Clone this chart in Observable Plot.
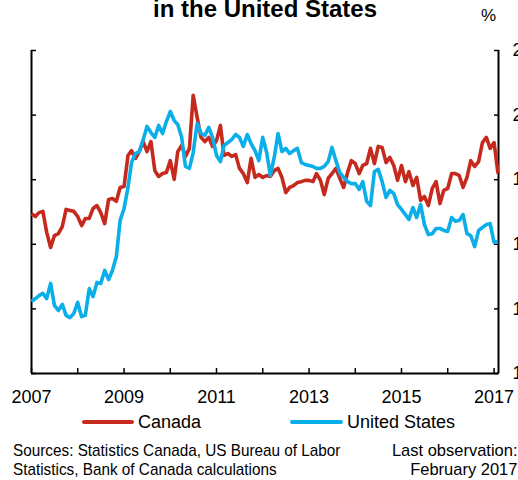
<!DOCTYPE html>
<html>
<head>
<meta charset="utf-8">
<script src="https://cdn.jsdelivr.net/npm/d3@7"></script>
<script src="https://cdn.jsdelivr.net/npm/@observablehq/plot@0.6"></script>
<style>
  html, body { margin: 0; padding: 0; background: #fff; }
  #wrap { position: relative; width: 518px; height: 480px; overflow: hidden; font-family: "Liberation Sans", Arial, sans-serif; color: #000; }
  #title { position: absolute; left: 0; width: 530px; top: -4px; text-align: center; font-weight: bold; font-size: 24px; line-height: 26px; white-space: nowrap; }
  #unit { position: absolute; left: 481px; top: 6px; font-size: 17px; }
  #chart { position: absolute; left: 0; top: 0; }
  .leg { position: absolute; top: 410px; font-size: 18px; line-height: 24px; white-space: nowrap; }
  .sw { position: absolute; height: 4px; top: 420px; border-radius: 2px; }
  #src { position: absolute; left: 13px; top: 441px; font-size: 17px; line-height: 19px; white-space: nowrap; transform: scaleX(0.9); transform-origin: 0 0; }
  #obs { position: absolute; right: 1px; top: 441px; text-align: right; font-size: 17px; line-height: 19px; white-space: nowrap; transform: scaleX(0.97); transform-origin: 100% 0; }
</style>
</head>
<body>
<div id="wrap">
  <div id="chart"></div>
  <div id="title">in the United States</div>
  <div id="unit">%</div>
  <div class="sw" style="left:82px;width:52px;background:#c62a1f"></div>
  <div class="leg" style="left:138px">Canada</div>
  <div class="sw" style="left:290px;width:53px;background:#0aafe9"></div>
  <div class="leg" style="left:347px">United States</div>
  <div id="src">Sources: Statistics Canada, US Bureau of Labor<br>Statistics, Bank of Canada calculations</div>
  <div id="obs">Last observation:<br>February 2017</div>
</div>
<script>
// Monthly series, January 2007 to February 2017
const startYear = 2007;
const canada = [
  16.95, 16.86, 16.98, 17.02, 16.37, 15.90, 16.27, 16.33, 16.55, 17.08, 17.05, 17.02,
  16.86, 16.58, 16.80, 16.80, 17.11, 17.20, 16.98, 16.64, 17.39, 17.42, 17.33, 17.76,
  17.79, 18.75, 18.90, 18.66, 18.87, 19.18, 18.87, 19.18, 18.28, 18.10, 18.19, 18.22,
  18.59, 18.01, 18.87, 19.06, 18.72, 18.97, 20.61, 19.93, 19.31, 19.18, 19.31, 19.03,
  19.21, 19.68, 18.75, 18.81, 18.72, 18.78, 18.35, 18.19, 17.91, 18.66, 18.07, 18.16,
  18.07, 18.13, 18.10, 18.28, 18.35, 18.07, 17.60, 17.76, 17.82, 17.91, 17.94, 17.98,
  17.98, 17.94, 18.19, 17.98, 17.54, 18.04, 18.19, 18.35, 18.04, 17.76, 18.22, 18.59,
  18.50, 18.19, 18.44, 18.50, 18.97, 18.50, 19.03, 19.00, 18.53, 18.69, 18.44, 17.98,
  18.44, 17.94, 18.25, 17.82, 18.07, 17.36, 17.48, 17.20, 17.73, 17.94, 17.26, 17.67,
  17.73, 18.19, 18.19, 18.13, 17.76, 18.07, 18.59, 18.41, 18.56, 19.15, 19.31, 18.97,
  19.15, 18.19
];
const unitedStates = [
  14.23, 14.32, 14.41, 14.48, 14.32, 14.79, 14.11, 13.95, 14.14, 13.80, 13.73, 13.86,
  14.20, 13.76, 13.80, 14.63, 14.38, 14.82, 14.79, 15.19, 14.91, 15.19, 15.62, 16.74,
  17.11, 17.76, 18.53, 18.81, 18.87, 19.24, 19.65, 19.46, 19.31, 19.68, 19.43, 19.80,
  20.11, 19.83, 19.71, 19.31, 18.41, 18.35, 18.84, 19.74, 19.43, 19.37, 19.62, 19.31,
  18.75, 18.56, 19.06, 19.15, 19.24, 19.40, 19.31, 19.03, 19.40, 19.12, 18.90, 18.59,
  19.31, 18.84, 18.13, 18.69, 19.43, 18.87, 18.97, 18.81, 18.90, 18.97, 18.53, 18.47,
  18.44, 18.41, 18.35, 18.35, 18.41, 18.56, 19.00, 18.59, 18.22, 18.07, 17.94, 17.88,
  17.88, 17.70, 17.94, 17.33, 17.20, 18.25, 18.32, 17.94, 17.45, 17.67, 17.57, 17.23,
  17.08, 16.92, 16.77, 17.14, 16.83, 17.23, 16.61, 16.30, 16.33, 16.49, 16.49, 16.43,
  16.40, 16.83, 16.71, 16.74, 16.92, 16.33, 16.27, 15.93, 16.43, 16.52, 16.61, 16.64,
  16.06, 16.09
];
const yTicks = [12, 14, 16, 18, 20, 22];
const xYears = [2007, 2008, 2009, 2010, 2011, 2012, 2013, 2014, 2015, 2016, 2017];
const seriesNames = ["Canada", "United States"];
const seriesColors = ["#c62a1f", "#0aafe9"];

const rows = [];
canada.forEach((v, i) => rows.push({date: new Date(Date.UTC(startYear, i, 1)), value: v, series: seriesNames[0]}));
unitedStates.forEach((v, i) => rows.push({date: new Date(Date.UTC(startYear, i, 1)), value: v, series: seriesNames[1]}));

const xDomain = [new Date(Date.UTC(2007, 0, 1)), new Date(Date.UTC(2017, 1, 5))];
const xTickDates = xYears.map(y => new Date(Date.UTC(y, 0, 1)));

const chart = Plot.plot({
  width: 518,
  height: 410,
  marginLeft: 31,
  marginRight: 20,
  marginTop: 50,
  marginBottom: 37,
  style: {fontFamily: '"Liberation Sans", Arial, sans-serif', fontSize: "18px", color: "#000", background: "transparent"},
  x: {type: "utc", domain: xDomain},
  y: {domain: [12, 22]},
  color: {domain: seriesNames, range: seriesColors},
  marks: [
    Plot.ruleX(xDomain, {stroke: "#000", strokeWidth: 2}),
    Plot.ruleY([12], {stroke: "#000", strokeWidth: 2}),
    Plot.axisY(yTicks, {anchor: "left", tickSize: -5, tickFormat: () => "", label: null, strokeWidth: 1.5}),
    Plot.axisY(yTicks, {anchor: "right", tickSize: -5, tickPadding: 19, label: null, strokeWidth: 1.5, fontSize: 18}),
    Plot.axisX(xTickDates, {anchor: "bottom", tickSize: -5, tickPadding: 22, label: null, strokeWidth: 1.5, fontSize: 18,
      tickFormat: d => (d.getUTCFullYear() % 2 === 1 ? String(d.getUTCFullYear()) : "")}),
    Plot.line(rows, {x: "date", y: "value", stroke: "series", z: "series", strokeWidth: 3.6, strokeLinejoin: "round", strokeLinecap: "butt"})
  ]
});
document.getElementById("chart").appendChild(chart);
</script>
</body>
</html>
